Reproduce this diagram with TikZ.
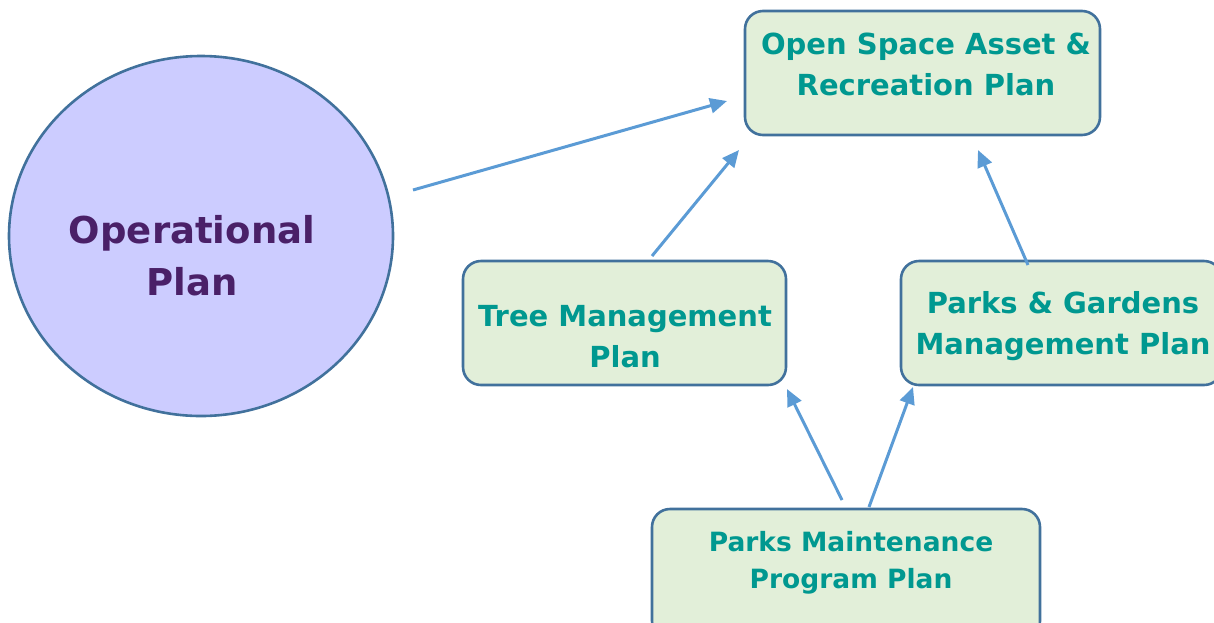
\documentclass[tikz,border=0pt]{standalone}
\usepackage{fontspec}
\setmainfont{DejaVu Sans}
\usetikzlibrary{arrows.meta,shapes.geometric}
\definecolor{boxfill}{HTML}{E2EFD9}
\definecolor{boxline}{HTML}{41719C}
\definecolor{teal1}{HTML}{009890}
\definecolor{purp}{HTML}{4A2068}
\definecolor{circfill}{HTML}{CCCCFF}
\definecolor{arrowc}{HTML}{5B9BD5}
\tikzset{
  planbox/.style={draw=boxline, fill=boxfill, line width=2.6pt, rounded corners=18pt, inner sep=0pt},
  plantext/.style={text=teal1, font=\bfseries\fontsize{29}{41}\selectfont, align=center, inner sep=0pt},
  smalltext/.style={text=teal1, font=\bfseries\fontsize{26.5}{37}\selectfont, align=center, inner sep=0pt},
  conn/.style={draw=arrowc, line width=3pt, -{Triangle[length=17pt,width=15pt]}}
}
\begin{document}
\begin{tikzpicture}[x=1pt,y=-1pt]
\useasboundingbox (0,0) rectangle (1214,622);
% circle
\node[draw=boxline, fill=circfill, line width=2.6pt, ellipse, minimum width=384pt, minimum height=360pt, inner sep=0pt] (op) at (201,236) {};
\node[text=purp, font=\bfseries\fontsize{37}{52}\selectfont, align=center] (opt) at (192,256) {Operational\\Plan};
% boxes
\node[planbox, minimum width=355pt, minimum height=124pt] (b1) at (922.5,73) {};
\node[plantext] (t1) at (926,64) {Open Space Asset \&\\Recreation Plan};
\node[planbox, minimum width=323pt, minimum height=124pt] (b2) at (624.5,323) {};
\node[plantext] (t2) at (625,337) {Tree Management\\Plan};
\node[planbox, minimum width=321pt, minimum height=124pt] (b3) at (1061.5,323) {};
\node[plantext] (t3) at (1063,326) {Parks \& Gardens\\Management Plan};
\node[planbox, minimum width=388pt, minimum height=130pt] (b4) at (846,574) {};
\node[smalltext] (t4) at (851,563) {Parks Maintenance\\Program Plan};
% arrow end points
\coordinate (a1s) at (413,190); \coordinate (a1e) at (727,101);
\coordinate (a2s) at (652,256); \coordinate (a2e) at (739,150);
\coordinate (a3s) at (1028,265); \coordinate (a3e) at (978,150);
\coordinate (a4s) at (842,500); \coordinate (a4e) at (787,389);
\coordinate (a5s) at (869,507); \coordinate (a5e) at (913,387);
\draw[conn] (a1s) -- (a1e);
\draw[conn] (a2s) -- (a2e);
\draw[conn] (a3s) -- (a3e);
\draw[conn] (a4s) -- (a4e);
\draw[conn] (a5s) -- (a5e);
\end{tikzpicture}
\end{document}
